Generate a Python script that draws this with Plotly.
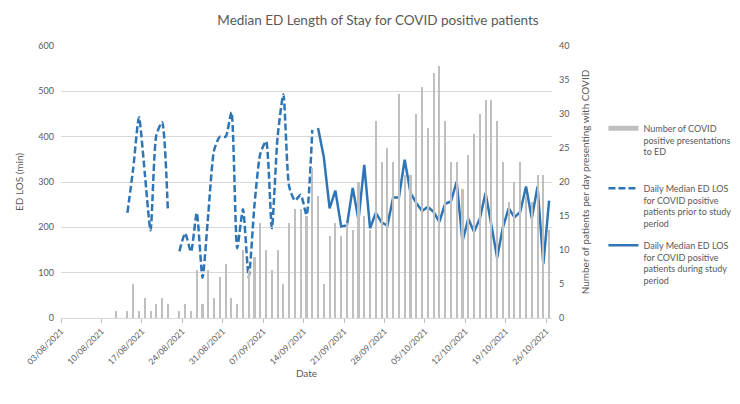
import pandas as pd
import plotly.graph_objects as go

dates = pd.date_range("2021-08-03", "2021-10-26", freq="D")

covid_presentations = [0] * 9 + [
    1, 0, 1, 5, 1, 3, 1, 2, 3, 2,
    0, 1, 2, 1, 7, 2, 7, 3, 6, 8,
    3, 2, 10, 7, 9, 14, 10, 7, 10, 5,
    14, 16, 16, 15, 22, 18, 5, 12, 14, 12,
    14, 13, 20, 15, 13, 29, 23, 25, 23, 33,
    21, 21, 30, 34, 28, 36, 37, 29, 23, 23,
    19, 24, 27, 30, 32, 32, 29, 23, 17, 20,
    23, 18, 17, 21, 21, 13,
]

los_prior = [None] * 11 + [
    232, 330, 443, 320, 193, 403, 432, 237, None,
    147, 187, 146, 232, 89, 230, 370, 400, 400, 454,
    154, 240, 90, 250, 362, 390, 198, 400, 493, 290,
    259, 272, 227, 415,
] + [None] * 41

los_during = [None] * 44 + [
    419, 355, 242, 281, 202, 204, 287, 216, 338, 198,
    232, 211, 204, 266, 266, 349, 276, 254, 236, 245,
    234, 212, 252, 257, 301, 169, 219, 190, 219, 276,
    205, 133, 200, 242, 222, 234, 290, 220, 290, 119, 259,
]

name_bars = "Number of COVID<br>positive presentations<br>to ED"
name_prior = "Daily Median ED LOS<br>for COVID positive<br>patients prior to study<br>period"
name_during = "Daily Median ED LOS<br>for COVID positive<br>patients during study<br>period"

FONT = "Lato, 'Open Sans', sans-serif"
GREY_TXT = "#595959"
BAR_C = "#bfbfbf"
LINE_C = "#2e75b6"
DAY = 86400000

fig = go.Figure()
fig.add_trace(go.Bar(
    x=dates, y=covid_presentations, yaxis="y2",
    xperiod=DAY, xperiodalignment="middle",
    width=0.36 * DAY, marker=dict(color=BAR_C, line=dict(width=0)),
    showlegend=False, name=name_bars,
))
# legend proxy for bars (thick grey line like Excel)
fig.add_trace(go.Scatter(
    x=[None], y=[None], mode="lines", name=name_bars,
    line=dict(color=BAR_C, width=5), legend="legend",
))
fig.add_trace(go.Scatter(
    x=dates, y=los_prior, mode="lines", name=name_prior,
    xperiod=DAY, xperiodalignment="middle",
    line=dict(color=LINE_C, width=2.5, dash="7px,3px", shape="spline", smoothing=0.6),
    connectgaps=False, legend="legend2",
))
fig.add_trace(go.Scatter(
    x=dates, y=los_during, mode="lines", name=name_during,
    xperiod=DAY, xperiodalignment="middle",
    line=dict(color=LINE_C, width=2.5),
    legend="legend3",
))

L, R, T, B = 53, 181, 38, 94
H, W = 404, 740
ph = H - T - B


def ypaper(px):
    return (H - B - px) / ph


def xpaper(px):
    return (px - L) / (W - L - R)


leg_common = dict(
    font=dict(family=FONT, size=9, color=GREY_TXT),
    bgcolor="rgba(0,0,0,0)", itemwidth=30, valign="top",
    xanchor="left", yanchor="top", x=xpaper(612),
)

fig.update_layout(
    width=W, height=H,
    margin=dict(l=L, r=R, t=T, b=B),
    paper_bgcolor="white", plot_bgcolor="white",
    font=dict(family=FONT, color=GREY_TXT),
    title=dict(
        text="Median ED Length of Stay for COVID positive patients",
        x=0.5, xref="container", xanchor="center",
        y=1 - 12 / H, yref="container", yanchor="middle",
        font=dict(family=FONT, size=13.5, color=GREY_TXT),
    ),
    bargap=0,
    xaxis=dict(
        type="date",
        range=["2021-08-03", "2021-10-27"],
        tick0="2021-08-03", dtick=7 * DAY,
        tickformat="%d/%m/%Y", tickangle=-45,
        ticks="outside", ticklen=4, tickcolor="#bfbfbf",
        showline=True, linecolor="#d9d9d9", linewidth=1,
        showgrid=False, zeroline=False,
        tickfont=dict(family=FONT, size=8.5, color=GREY_TXT),
        title=dict(text="Date", font=dict(family=FONT, size=10, color=GREY_TXT), standoff=0),
    ),
    yaxis=dict(
        range=[0, 600], dtick=100,
        showgrid=True, gridcolor="#d9d9d9", gridwidth=1,
        zeroline=False, showline=False, ticks="",
        ticklabelstandoff=6,
        tickfont=dict(family=FONT, size=9, color=GREY_TXT),
        title=dict(text="ED LOS (min)", font=dict(family=FONT, size=10, color=GREY_TXT), standoff=12),
    ),
    yaxis2=dict(
        overlaying="y", side="right",
        range=[0, 40], dtick=5,
        showgrid=False, zeroline=False, showline=False, ticks="",
        ticklabelstandoff=6,
        tickfont=dict(family=FONT, size=9, color=GREY_TXT),
        title=dict(text="Number of patients per day presenting with COVID",
                   font=dict(family=FONT, size=10, color=GREY_TXT), standoff=13),
    ),
    legend=dict(y=ypaper(108), **leg_common),
    legend2=dict(y=ypaper(168), **leg_common),
    legend3=dict(y=ypaper(225), **leg_common),
)

fig.write_html("out.html")
